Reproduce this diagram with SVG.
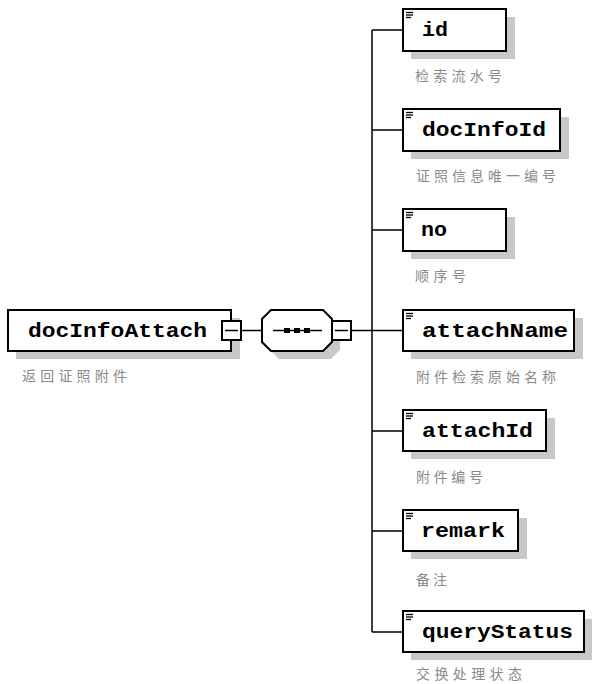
<svg xmlns="http://www.w3.org/2000/svg" width="593" height="684" viewBox="0 0 593 684">
<style>
.sh{fill:#c8c8c8}
.bx{fill:#fff;stroke:#000;stroke-width:2}
.ln{stroke:#000;stroke-width:1.5;fill:none}
.nm{font-family:"Liberation Mono","DejaVu Sans Mono",monospace;font-weight:bold;font-size:20px;fill:#000}
.ds{font-family:"Noto Sans CJK SC","Noto Sans",sans-serif;font-size:14px;fill:#8a8a8a}
.ic{stroke:#000;stroke-width:1.3}
</style>
<defs>
<g id="icon"><line class="ic" x1="406" y1="12.5" x2="413" y2="12.5"/><line class="ic" x1="406" y1="15" x2="413" y2="15"/><line class="ic" x1="406" y1="17.5" x2="411" y2="17.5"/></g>
</defs>
<rect width="593" height="684" fill="#fff"/>
<g id="connectors">
<line class="ln" x1="241" y1="330.5" x2="262" y2="330.5"/>
<line class="ln" x1="351" y1="330.5" x2="372" y2="330.5"/>
<line class="ln" x1="372" y1="30" x2="372" y2="632"/>
<line class="ln" x1="372" y1="30" x2="403" y2="30"/>
<line class="ln" x1="372" y1="130" x2="403" y2="130"/>
<line class="ln" x1="372" y1="230" x2="403" y2="230"/>
<line class="ln" x1="372" y1="330.5" x2="403" y2="330.5"/>
<line class="ln" x1="372" y1="431" x2="403" y2="431"/>
<line class="ln" x1="372" y1="531" x2="403" y2="531"/>
<line class="ln" x1="372" y1="632" x2="403" y2="632"/>
</g>
<g id="root">
<rect class="sh" x="16" y="318" width="224" height="41"/>
<rect class="bx" x="8" y="310" width="223" height="41"/>
<text class="nm" x="28" y="337" textLength="179" lengthAdjust="spacingAndGlyphs">docInfoAttach</text>
<rect class="bx" x="222" y="321" width="19" height="19" stroke-width="1.5"/>
<line class="ln" x1="225" y1="330.5" x2="238" y2="330.5"/>
<text class="ds" x="22" y="381" textLength="105" lengthAdjust="spacing">返回证照附件</text>
</g>
<g id="sequence">
<polygon class="sh" points="279,318 331,318 340,327 340,350 331,359 279,359 270,350 270,327"/>
<polygon class="bx" points="271,310 323,310 332,319 332,342 323,351 271,351 262,342 262,319" stroke-width="1.5"/>
<line class="ln" x1="273" y1="330.5" x2="322" y2="330.5"/>
<rect x="284" y="328" width="6" height="5" fill="#000"/>
<rect x="294" y="328" width="6" height="5" fill="#000"/>
<rect x="304" y="328" width="6" height="5" fill="#000"/>
<rect class="bx" x="332" y="321" width="19" height="19" stroke-width="1.5"/>
<line class="ln" x1="335" y1="330.5" x2="348" y2="330.5"/>
</g>
<g id="id">
<rect class="sh" x="411" y="17" width="104" height="42"/>
<rect class="bx" x="403" y="9" width="103" height="42"/>
<use href="#icon"/>
<text class="nm" x="422" y="36" textLength="26" lengthAdjust="spacingAndGlyphs">id</text>
<text class="ds" x="415" y="81" textLength="87" lengthAdjust="spacing">检索流水号</text>
</g>
<g id="docInfoId">
<rect class="sh" x="411" y="117" width="158" height="42"/>
<rect class="bx" x="403" y="109" width="157" height="42"/>
<use href="#icon" y="100"/>
<text class="nm" x="422" y="136" textLength="124" lengthAdjust="spacingAndGlyphs">docInfoId</text>
<text class="ds" x="416" y="181" textLength="140" lengthAdjust="spacing">证照信息唯一编号</text>
</g>
<g id="no">
<rect class="sh" x="411" y="217" width="104" height="42"/>
<rect class="bx" x="403" y="209" width="103" height="42"/>
<use href="#icon" y="200"/>
<text class="nm" x="421" y="236" textLength="26" lengthAdjust="spacingAndGlyphs">no</text>
<text class="ds" x="415" y="281" textLength="51" lengthAdjust="spacing">顺序号</text>
</g>
<g id="attachName">
<rect class="sh" x="411" y="318" width="172" height="41"/>
<rect class="bx" x="403" y="310" width="171" height="41"/>
<use href="#icon" y="301"/>
<text class="nm" x="422" y="337" textLength="146" lengthAdjust="spacingAndGlyphs">attachName</text>
<text class="ds" x="416" y="382" textLength="140" lengthAdjust="spacing">附件检索原始名称</text>
</g>
<g id="attachId">
<rect class="sh" x="411" y="418" width="144" height="41"/>
<rect class="bx" x="403" y="410" width="143" height="41"/>
<use href="#icon" y="401"/>
<text class="nm" x="422" y="437" textLength="111" lengthAdjust="spacingAndGlyphs">attachId</text>
<text class="ds" x="416" y="482" textLength="67" lengthAdjust="spacing">附件编号</text>
</g>
<g id="remark">
<rect class="sh" x="411" y="518" width="116" height="41"/>
<rect class="bx" x="403" y="510" width="115" height="41"/>
<use href="#icon" y="501"/>
<text class="nm" x="421" y="537" textLength="84" lengthAdjust="spacingAndGlyphs">remark</text>
<text class="ds" x="416" y="585" textLength="31" lengthAdjust="spacing">备注</text>
</g>
<g id="queryStatus">
<rect class="sh" x="411" y="619" width="181" height="41"/>
<rect class="bx" x="403" y="611" width="181" height="41"/>
<use href="#icon" y="602"/>
<text class="nm" x="422" y="638" textLength="151" lengthAdjust="spacingAndGlyphs">queryStatus</text>
<text class="ds" x="416" y="679" textLength="106" lengthAdjust="spacing">交换处理状态</text>
</g>
</svg>
